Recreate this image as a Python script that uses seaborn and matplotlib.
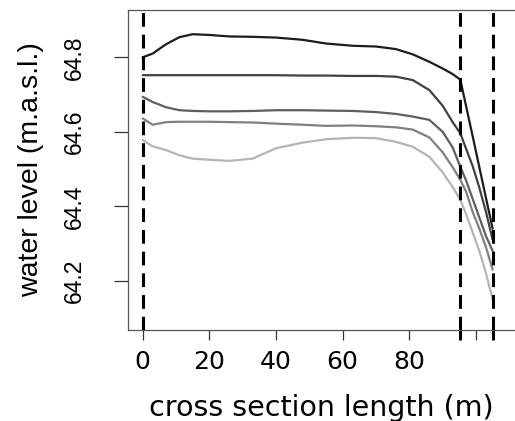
import pandas as pd
import matplotlib
matplotlib.use('Agg')
import matplotlib.pyplot as plt
import seaborn as sns

# cross section positions (m)
x_pos = [0, 3, 7, 11, 15, 20, 26, 33, 40, 48, 55, 63, 70, 76, 81, 86, 90, 93, 95.3, 97, 99, 101, 103, 105]

# water levels (m.a.s.l.) for five profiles, darkest to lightest
level_1 = [64.800, 64.810, 64.835, 64.854, 64.862, 64.860, 64.856, 64.855, 64.853, 64.847, 64.837, 64.831,
           64.829, 64.822, 64.808, 64.788, 64.770, 64.755, 64.740, 64.670, 64.588, 64.505, 64.422, 64.340]
level_2 = [64.752, 64.752, 64.752, 64.752, 64.752, 64.752, 64.752, 64.752, 64.752, 64.751, 64.751, 64.750,
           64.750, 64.748, 64.739, 64.712, 64.670, 64.626, 64.596, 64.555, 64.508, 64.450, 64.385, 64.310]
level_3 = [64.694, 64.680, 64.666, 64.658, 64.656, 64.655, 64.655, 64.656, 64.658, 64.658, 64.657, 64.656,
           64.653, 64.648, 64.641, 64.632, 64.600, 64.558, 64.506, 64.470, 64.420, 64.370, 64.320, 64.280]
level_4 = [64.636, 64.619, 64.626, 64.627, 64.627, 64.627, 64.626, 64.625, 64.622, 64.619, 64.616, 64.617,
           64.615, 64.612, 64.606, 64.585, 64.545, 64.505, 64.471, 64.440, 64.385, 64.340, 64.290, 64.230]
level_5 = [64.578, 64.561, 64.551, 64.537, 64.528, 64.525, 64.522, 64.528, 64.556, 64.571, 64.580, 64.584,
           64.583, 64.573, 64.560, 64.533, 64.491, 64.452, 64.417, 64.380, 64.330, 64.280, 64.220, 64.150]

profiles = ['p1', 'p2', 'p3', 'p4', 'p5']
grays = ['#1c1c1c', '#404040', '#5f5f5f', '#808080', '#b4b4b4']

# dashed reference lines (m)
breaks = [0, 95.3, 105.2]

x_ticks = [0, 20, 40, 60, 80, 100]
x_labels = ['0', '20', '40', '60', '80', '']
y_ticks = [64.2, 64.4, 64.6, 64.8]

frames = []
for name, vals in zip(profiles, [level_1, level_2, level_3, level_4, level_5]):
    frames.append(pd.DataFrame({'x': x_pos, 'level': vals, 'profile': name}))
df = pd.concat(frames, ignore_index=True)

sns.set_style('ticks')
plt.rcParams['font.family'] = ['Liberation Sans', 'DejaVu Sans']
plt.rcParams['text.color'] = 'black'
plt.rcParams['axes.labelcolor'] = 'black'
plt.rcParams['xtick.labelcolor'] = 'black'
plt.rcParams['ytick.labelcolor'] = 'black'

fig = plt.figure(figsize=(5.15, 4.21), dpi=100)
ax = fig.add_axes([128 / 515, 91 / 421, 387 / 515, 320 / 421])

sns.lineplot(data=df, x='x', y='level', hue='profile', palette=grays,
             linewidth=1.6, legend=False, ax=ax, sort=False)

for b in breaks:
    ax.axvline(b, color='black', linewidth=2.2, linestyle=(0, (4.5, 2.6)), zorder=5)

ax.set_xlim(-4.4, 111.7)
ax.set_ylim(64.068, 64.927)

ax.set_xticks(x_ticks)
ax.set_xticklabels(x_labels, family=['DejaVu Sans'], fontsize=18)
ax.set_xticks(breaks[1:], minor=True)
ax.set_yticks(y_ticks)
ax.set_yticklabels([f'{v:.1f}' for v in y_ticks], rotation=90, va='center', fontsize=16.5)

ax.tick_params(axis='x', length=7.5, width=0.9, color='#333333', pad=7)
ax.tick_params(axis='x', which='minor', length=7.5, width=2.2, color='black')
ax.tick_params(axis='y', length=10, width=0.9, color='#333333', pad=20)

for side in ['left', 'bottom', 'top']:
    ax.spines[side].set_color('#555555')
    ax.spines[side].set_linewidth(0.9)
ax.spines['right'].set_visible(False)

ax.set_xlabel('cross section length (m)', family=['DejaVu Sans'], fontsize=20.5, labelpad=14)
ax.set_ylabel('water level (m.a.s.l.)', fontsize=20.5, labelpad=14)

fig.savefig('out.png', dpi=100)
